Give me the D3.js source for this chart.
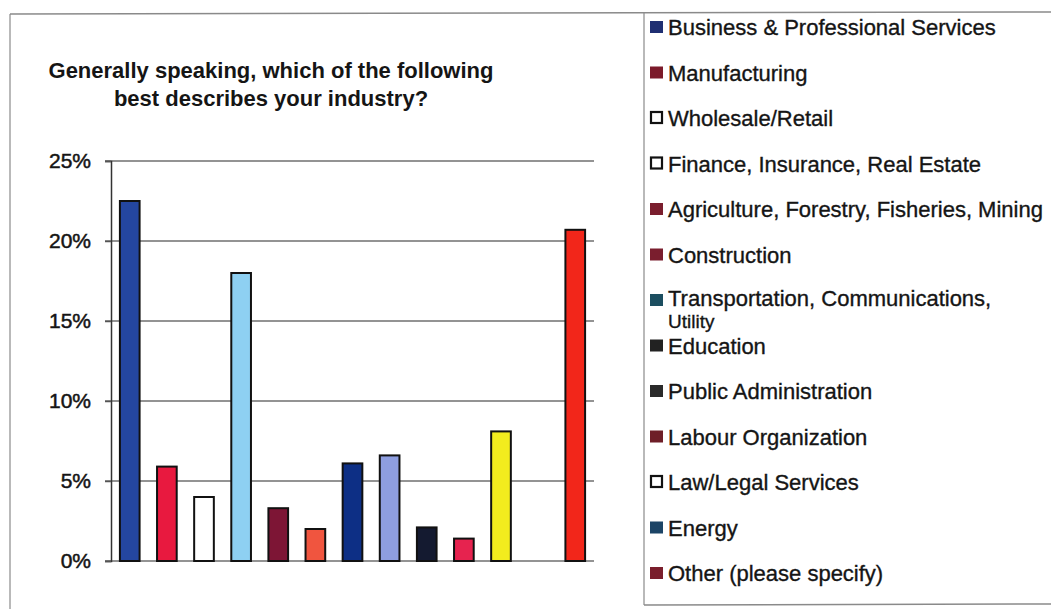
<!DOCTYPE html>
<html>
<head>
<meta charset="utf-8">
<script src="https://cdn.jsdelivr.net/npm/d3@7"></script>
<style>
  body { margin: 0; background: #fff; }
  svg { display: block; }
  text { font-family: "Liberation Sans", Arial, sans-serif; fill: #151515; }
</style>
</head>
<body>
<svg id="chart" width="1051" height="609"></svg>
<script>
// Survey answers: share of respondents per industry (percent)
const categories = [
  "Business & Professional Services",
  "Manufacturing",
  "Wholesale/Retail",
  "Finance, Insurance, Real Estate",
  "Agriculture, Forestry, Fisheries, Mining",
  "Construction",
  "Transportation, Communications, Utility",
  "Education",
  "Public Administration",
  "Labour Organization",
  "Law/Legal Services",
  "Energy",
  "Other (please specify)"
];
const values = [22.5, 5.9, 4.0, 18.0, 3.3, 2.0, 6.1, 6.6, 2.1, 1.4, 8.1, 0, 20.7];
const barColors = [
  "#2446a0", "#e8193f", "#ffffff", "#8ed0f2", "#7d1535", "#f0553f", "#0d2f85",
  "#8e9ee0", "#141a30", "#e6234f", "#f2ec1e", "#1c4466", "#f2261a"
];
const legendColors = [
  "#1f2f72", "#7b1a2a", "#ffffff", "#ffffff", "#7a1e2e", "#7a1e2e", "#1c4e60",
  "#222222", "#2a2a2a", "#6e1e28", "#ffffff", "#1c4466", "#7a1e2c"
];
const legendOutlined = [false, false, true, true, false, false, false, false, false, false, true, false, false];
const yTicks = [0, 5, 10, 15, 20, 25];
const titleLines = ["Generally speaking, which of the following", "best describes your industry?"];

const svg = d3.select("#chart");

// Frames: chart panel and legend panel
const frame = svg.append("g").attr("fill", "none").attr("stroke", "#8a8a8a");
frame.append("line").attr("x1", 10).attr("y1", 14).attr("x2", 1051).attr("y2", 12).attr("stroke-width", 1.5);
frame.append("line").attr("x1", 10).attr("y1", 14).attr("x2", 10).attr("y2", 609).attr("stroke-width", 1.2);
frame.append("line").attr("x1", 644).attr("y1", 13).attr("x2", 644).attr("y2", 605).attr("stroke-width", 1.2);
frame.append("line").attr("x1", 644).attr("y1", 605).attr("x2", 1051).attr("y2", 604).attr("stroke-width", 1.5);

// Title
svg.append("text")
  .attr("x", 271).attr("y", 78)
  .attr("text-anchor", "middle")
  .attr("font-size", 22).attr("font-weight", "bold")
  .selectAll("tspan").data(titleLines).join("tspan")
  .attr("x", 271).attr("dy", (d, i) => i === 0 ? 0 : 28)
  .text(d => d);

// Scales
const x = d3.scaleBand().domain(categories).range([111, 594]).paddingInner(0.47).paddingOuter(0.24);
const y = d3.scaleLinear().domain([0, 25]).range([561, 161]);

// Gridlines
svg.append("g")
  .selectAll("line").data(yTicks).join("line")
  .attr("x1", 105).attr("x2", 594)
  .attr("y1", d => y(d)).attr("y2", d => y(d))
  .attr("stroke", "#6f6f6f").attr("stroke-width", 1.5);

// Y axis
const yAxis = d3.axisLeft(y)
  .tickValues(yTicks)
  .tickFormat(d => d + "%")
  .tickSize(6)
  .tickPadding(14);
const ya = svg.append("g").attr("transform", "translate(111,0)").call(yAxis);
ya.select(".domain").attr("stroke", "#333").attr("stroke-width", 1.5);
ya.selectAll(".tick line").attr("stroke", "#555").attr("stroke-width", 1.5);
ya.selectAll(".tick text")
  .attr("font-family", "Liberation Sans, Arial, sans-serif")
  .attr("font-size", 21)
  .attr("fill", "#151515")
  .style("stroke", "#151515").style("stroke-width", 0.5);

// Bars
svg.append("g")
  .selectAll("rect").data(values.map((v, i) => ({ c: categories[i], v, col: barColors[i] })).filter(d => d.v > 0))
  .join("rect")
  .attr("x", d => x(d.c))
  .attr("width", x.bandwidth())
  .attr("y", d => y(d.v))
  .attr("height", d => y(0) - y(d.v))
  .attr("fill", d => d.col)
  .attr("stroke", "#111")
  .attr("stroke-width", 2);

// Legend: one row per category; labels too wide for the panel wrap onto
// a second, slightly smaller line that sits between rows
const legend = svg.append("g");
const rowY0 = 27, rowStep = 45.5, textX = 668, maxW = 383;
categories.forEach((name, i) => {
  const cy = rowY0 + i * rowStep;
  const g = legend.append("g");
  g.append("rect")
    .attr("x", legendOutlined[i] ? 651 : 650).attr("y", cy - 6)
    .attr("width", legendOutlined[i] ? 11 : 13).attr("height", legendOutlined[i] ? 11 : 12)
    .attr("fill", legendColors[i])
    .attr("stroke", legendOutlined[i] ? "#111" : "none")
    .attr("stroke-width", legendOutlined[i] ? 2.2 : 0);

  // split the label into lines that fit the panel
  const probe = g.append("text").attr("font-size", 22);
  const lines = [];
  let cur = [];
  name.split(" ").forEach(w => {
    cur.push(w);
    probe.text(cur.join(" "));
    if (probe.node().getComputedTextLength() > maxW && cur.length > 1) {
      cur.pop();
      lines.push(cur.join(" "));
      cur = [w];
    }
  });
  lines.push(cur.join(" "));
  probe.remove();

  const top = lines.length > 1 ? cy - 2 : cy;
  lines.forEach((ln, j) => {
    g.append("text")
      .attr("x", textX)
      .attr("y", top + 8 + 22 * j)
      .attr("font-size", j === 0 ? 22 : 19)
      .style("stroke", "#151515").style("stroke-width", 0.35)
      .text(ln);
  });
});
</script>
</body>
</html>
